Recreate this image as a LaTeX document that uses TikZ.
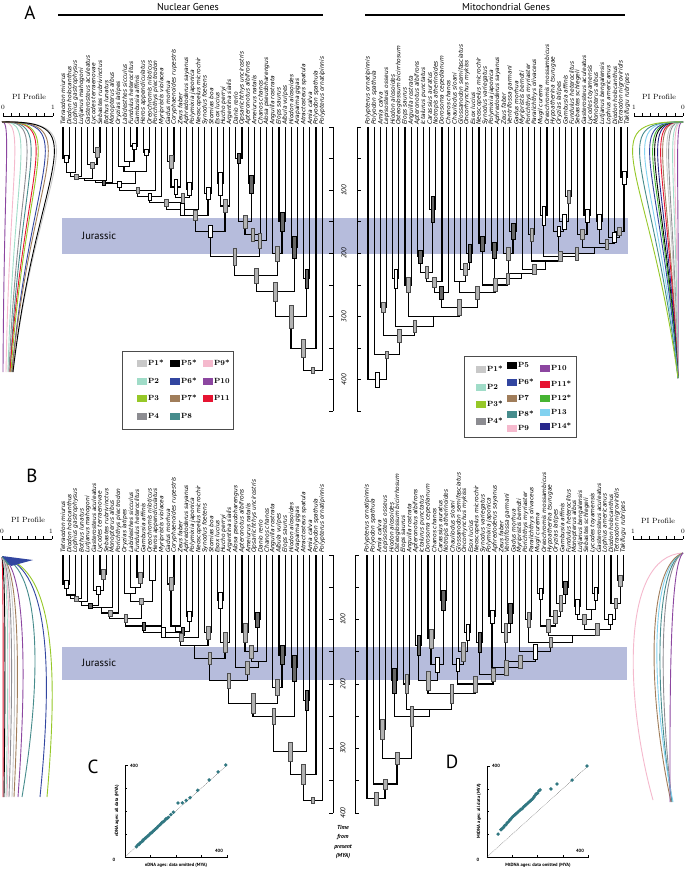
\documentclass[tikz,border=0pt]{standalone}
\usepackage{fontspec}
\newfontfamily\sfont{PT Sans}
\newfontfamily\labf{DejaVu Sans}
\usetikzlibrary{calc}
\pgfdeclarelayer{fg}
\pgfsetlayers{main,fg}
\definecolor{jur}{RGB}{182,188,220}
\definecolor{cP1}{RGB}{200,200,200}
\definecolor{cP2}{RGB}{160,220,200}
\definecolor{cP3}{RGB}{150,200,40}
\definecolor{cP4}{RGB}{140,140,145}
\definecolor{cP5}{RGB}{0,0,0}
\definecolor{cP6}{RGB}{50,70,160}
\definecolor{cP7}{RGB}{160,125,90}
\definecolor{cP8}{RGB}{70,140,140}
\definecolor{cP9}{RGB}{245,185,205}
\definecolor{cP10}{RGB}{140,70,160}
\definecolor{cP11}{RGB}{230,20,50}
\definecolor{cP12}{RGB}{70,180,50}
\definecolor{cP13}{RGB}{130,210,240}
\definecolor{cP14}{RGB}{40,40,140}
\definecolor{dotc}{RGB}{50,120,130}
\newcommand\J[4]{\coordinate (auxj) at (0,#4);\coordinate (midj) at ($(#2)!0.5!(#3)$);\coordinate (#1) at (midj |- auxj);\draw[br] (#2) |- (#1) -| (#3);}
\newcommand\JB[6]{\J{#1}{#2}{#3}{#4}\begin{pgfonlayer}{fg}\path[#5] (#1) ++(-1.8,-#6) rectangle ++(3.6,2*#6);\end{pgfonlayer}}
\newcommand\PL[5]{\draw[#1,pil] (2,#2) .. controls ({1.86*#4},{#2-2}) and ({0.69*#4},{#2+43}) .. (#5,#3);}
\newcommand\PR[5]{\draw[#1,pil] (683,#2) .. controls ({683-1.86*#4},{#2-2}) and ({683-0.69*#4},{#2+43}) .. (#5,#3);}
\newcommand\PBL[3]{\draw[#1,pil] (2,557) .. controls ({1.1*#2},568) and ({1.1*#2},680) .. (#3,797);}
\newcommand\PBR[3]{\draw[#1,pil] (683,553) .. controls ({683-1.1*#2},565) and ({683-1.1*#2},690) .. (#3,802);}
\newcommand\LE[5]{\fill[#4] (#2,#3-3.5) rectangle ++(10,7);\node[leg,anchor=west] (#1) at (#2+10.5,#3) {#5};}
\tikzset{
 br/.style={line width=1.15pt},
 gbar/.style={fill=gray!60,draw=black!70,line width=0.4pt},
 wbar/.style={fill=white,draw=black,line width=0.4pt},
 kbar/.style={fill=black!60,draw=black,line width=0.4pt},
 lab/.style={rotate=90,anchor=west,inner sep=0pt,font=\labf\itshape\fontsize{5.9}{5.9}\selectfont},
 axl/.style={rotate=90,inner sep=0pt,font=\sfont\itshape\fontsize{7}{7}\selectfont},
 axis/.style={line width=0.9pt},
 pil/.style={line width=0.9pt},
 leg/.style={inner sep=0.5pt,font=\bfseries\fontsize{7.5}{8}\selectfont},
 pit/.style={inner sep=0pt,font=\fontsize{7.5}{8}\selectfont},
 pin/.style={inner sep=0pt,font=\fontsize{6.5}{7}\selectfont},
 big/.style={inner sep=0pt,font=\sfont\fontsize{19}{19}\selectfont},
 head/.style={inner sep=0pt,font=\sfont\fontsize{10}{10}\selectfont},
 jtx/.style={inner sep=0pt,anchor=west,font=\sfont\fontsize{10.5}{11}\selectfont},
 sl/.style={inner sep=0pt,font=\sfont\bfseries\fontsize{4.6}{5}\selectfont},
 dot/.style={fill=dotc},
}
\begin{document}
\begin{tikzpicture}[x=1pt,y=-1pt]
\useasboundingbox (0,0) rectangle (685,869);
\fill[white] (0,0) rectangle (685,869);
% ---------- headers
\node[big] (lA) at (30,13) {A};
\node[head] (hN) at (188,7) {Nuclear Genes};
\draw[line width=1.2pt] (58,15) -- (323,15);
\node[head] (hM) at (506,7) {Mitochondrial Genes};
\draw[line width=1.2pt] (365,15) -- (625,15);
\node[big] (lB) at (32,476) {B};
% ---------- Jurassic bands
\fill[jur] (62,218) rectangle (628,254);
\node[jtx] (jA) at (82,236) {Jurassic};
\fill[jur] (62,647) rectangle (627,680);
\node[jtx] (jB) at (82,663) {Jurassic};
% ---------- taxon labels
\foreach \n [count=\i] in {Tetraodon miurus, Diodon holocanthus, Lophius gastrophysus, Lutjanus mahogoni, Gasterosteus aculeatus, Lycodes terraenovae, Sebastes rubrivinctus, Bothus lunatus, Monopterus albus, Oryzias latipes, Labidesthes sicculus, Fundulus heteroclitus, Gambusia affinis, Heros appendiculatus, Oreochromis niloticus, Porichthys plectrodon, Myripristis violacea, Gadus morhua, Coryphaenoides rupestris, Zeus faber, Aphredoderus sayanus, Polymixia japonica, Neoscopelus microchir, Synodus foetens, Stomias boa, Esox lucius, Hucho perryi, Argentina sialis, Danio rerio, Opsariichthys uncirostris, Apteronotus albifrons, Ameiurus natalis, Chanos chanos, Alosa pseudoharengus, Anguilla rostrata, Elops saurus, Albula vulpes, Hiodon alosoides, Arapaima gigas, Atractosteus spatula, Amia calva, Polyodon spathula, Polypterus ornatipinnis}
 {\node[lab] (la\i) at ({63+6.17*(\i-1)},125) {\n};}
\foreach \n [count=\i] in {Polypterus ornatipinnis, Polyodon spathula, Amia calva, Lepisosteus osseus, Hiodon alosoides, Osteoglossum bicirrhosum, Elops saurus, Anguilla rostrata, Apteronotus albifrons, Ictalurus punctatus, Carassius auratus, Notropis atherinoides, Dorosoma cepedianum, Chanos chanos, Chauliodus sloani, Glossanodon semifasciatus, Oncorhynchus mykiss, Esox lucius, Neoscopelus microchir, Synodus variegatus, Polymixia japonica, Aphredoderus sayanus, Zeus faber, Ventrifossa garmani, Gadus morhua, Myripristis berndti, Porichthys myriaster, Paralichthys olivaceus, Mugil curema, Oreochromis mossambicus, Hypoatherina tsurugae, Oryzias latipes, Gambusia affinis, Fundulus heteroclitus, Sebastes schlegeli, Gasterosteus aculeatus, Lycodes toyamensis, Monopterus albus, Lutjanus bengalensis, Lophius americanus, Diodon holocanthus, Tetraodon nigroviridis, Takifugu rubripes}
 {\node[lab] (lb\i) at ({368+6.17*(\i-1)},125) {\n};}
\foreach \n [count=\i] in {Tetraodon miurus, Diodon holocanthus, Lophius gastrophysus, Bothus lunatus, Lutjanus mahogoni, Gasterosteus aculeatus, Lycodes terraenovae, Sebastes rubrivinctus, Monopterus albus, Porichthys plectrodon, Oryzias latipes, Labidesthes sicculus, Fundulus heteroclitus, Gambusia affinis, Oreochromis niloticus, Heros appendiculatus, Myripristis violacea, Gadus morhua, Coryphaenoides rupestris, Zeus faber, Aphredoderus sayanus, Polymixia japonica, Neoscopelus microchir, Synodus foetens, Stomias boa, Esox lucius, Hucho perryi, Argentina sialis, Alosa pseudoharengus, Apteronotus albifrons, Ameiurus natalis, Opsariichthys uncirostris, Danio rerio, Chanos chanos, Anguilla rostrata, Albula vulpes, Elops saurus, Hiodon alosoides, Arapaima gigas, Atractosteus spatula, Amia calva, Polyodon spathula, Polypterus ornatipinnis}
 {\node[lab] (lc\i) at ({63+6.17*(\i-1)},553) {\n};}
\foreach \n [count=\i] in {Polypterus ornatipinnis, Polyodon spathula, Amia calva, Lepisosteus osseus, Hiodon alosoides, Osteoglossum bicirrhosum, Elops saurus, Anguilla rostrata, Apteronotus albifrons, Ictalurus punctatus, Dorosoma cepedianum, Chanos chanos, Carassius auratus, Notropis atherinoides, Chauliodus sloani, Glossanodon semifasciatus, Oncorhynchus mykiss, Esox lucius, Neoscopelus microchir, Synodus variegatus, Polymixia japonica, Aphredoderus sayanus, Zeus faber, Ventrifossa garmani, Gadus morhua, Myripristis berndti, Porichthys myriaster, Paralichthys olivaceus, Mugil curema, Oreochromis mossambicus, Hypoatherina tsurugae, Oryzias latipes, Gambusia affinis, Fundulus heteroclitus, Monopterus albus, Lutjanus bengalensis, Sebastes schlegeli, Lycodes toyamensis, Gasterosteus aculeatus, Lophius americanus, Diodon holocanthus, Tetraodon nigroviridis, Takifugu rubripes}
 {\node[lab] (ld\i) at ({367+6.1*(\i-1)},553) {\n};}
% ---------- time axes
\draw[axis] (333,127) -- (333,411.4);
\draw[axis] (357,127) -- (357,411.4);
\foreach \a in {0,50,...,450} {\draw[axis] (333,{127+0.632*\a}) -- ++(-4,0); \draw[axis] (357,{127+0.632*\a}) -- ++(4,0);}
\foreach \a in {100,200,300,400} {\node[axl] (tA\a) at (344,{127+0.632*\a}) {\a};}
\draw[axis] (333,555) -- (333,813);
\draw[axis] (355,555) -- (355,813);
\foreach \a in {0,50,...,400} {\draw[axis] (333,{555+0.645*\a}) -- ++(-4,0); \draw[axis] (355,{555+0.645*\a}) -- ++(4,0);}
\foreach \a in {100,200,300,400} {\node[axl] (tB\a) at (343,{555+0.645*\a}) {\a};}
\node[inner sep=0pt,align=center,font=\sfont\itshape\bfseries\fontsize{5.8}{9.3}\selectfont] (tfp) at (343,842) {Time\\from\\present\\(MYA)};
% ---------- tree A nuclear
\begin{scope}[shift={(0,127)},y=-0.632pt]
\foreach \i in {1,...,43} {\coordinate (a\i) at ({63+6.17*(\i-1)},0);}
\JB{A1}{a1}{a2}{50}{wbar}{6}
\J{A2}{A1}{a3}{72}
\JB{A3}{A2}{a4}{78}{gbar}{4}
\JB{A4}{a6}{a7}{40}{gbar}{8}
\JB{A5}{a5}{A4}{60}{gbar}{5}
\J{A6}{A3}{A5}{82}
\J{A7}{A6}{a8}{85}
\JB{A8}{A7}{a9}{88}{kbar}{4}
\JB{A9}{a12}{a13}{30}{wbar}{5}
\J{A10}{a11}{A9}{55}
\J{A11}{a10}{A10}{62}
\JB{A12}{a14}{a15}{40}{wbar}{5}
\J{A13}{A11}{A12}{70}
\JB{A14}{A8}{A13}{90}{wbar}{5}
\JB{A15}{A14}{a16}{100}{gbar}{5}
\JB{A16}{A15}{a17}{110}{wbar}{6}
\JB{A17}{a18}{a19}{55}{gbar}{10}
\JB{A18}{A17}{a20}{95}{wbar}{12}
\JB{A19}{a21}{a22}{98}{wbar}{10}
\JB{A20}{A18}{A19}{112}{gbar}{8}
\JB{A21}{A16}{A20}{120}{gbar}{6}
\JB{A22}{A21}{a23}{130}{wbar}{10}
\JB{A23}{a24}{a25}{105}{wbar}{10}
\JB{A24}{A22}{A23}{140}{gbar}{8}
\JB{A25}{a26}{a27}{90}{wbar}{18}
\JB{A26}{A25}{a28}{125}{gbar}{10}
\JB{A27}{A24}{A26}{165}{wbar}{10}
\JB{A28}{a29}{a30}{50}{kbar}{8}
\JB{A29}{a31}{a32}{90}{kbar}{14}
\JB{A30}{A28}{A29}{150}{gbar}{10}
\JB{A31}{A30}{a33}{170}{gbar}{10}
\JB{A32}{A31}{a34}{180}{gbar}{12}
\JB{A33}{A27}{A32}{205}{gbar}{14}
\JB{A34}{a36}{a37}{150}{kbar}{15}
\JB{A35}{a35}{A34}{200}{gbar}{12}
\JB{A36}{A33}{A35}{235}{gbar}{12}
\JB{A37}{a38}{a39}{190}{kbar}{18}
\JB{A38}{A36}{A37}{260}{gbar}{15}
\JB{A39}{a40}{a41}{240}{kbar}{15}
\JB{A40}{A38}{A39}{300}{gbar}{18}
\JB{A41}{A40}{a42}{350}{gbar}{15}
\JB{A42}{A41}{a43}{385}{gbar}{5}
\end{scope}
% ---------- tree A mito
\begin{scope}[shift={(0,127)},y=-0.632pt]
\foreach \i in {1,...,43} {\coordinate (b\i) at ({368+6.17*(\i-1)},0);}
\JB{B1}{b42}{b43}{80}{wbar}{10}
\JB{B2}{b41}{B1}{165}{gbar}{6}
\JB{B3}{b40}{B2}{175}{wbar}{8}
\JB{B4}{b38}{b39}{150}{wbar}{12}
\JB{B5}{B4}{B3}{185}{gbar}{8}
\JB{B6}{b36}{b37}{140}{wbar}{10}
\JB{B7}{b35}{B6}{170}{gbar}{8}
\J{B8}{B7}{B5}{190}
\JB{B9}{b33}{b34}{110}{gbar}{10}
\JB{B10}{b32}{B9}{150}{wbar}{12}
\JB{B11}{b31}{B10}{165}{wbar}{8}
\JB{B12}{B11}{B8}{200}{gbar}{10}
\JB{B13}{b29}{b30}{140}{wbar}{15}
\JB{B14}{B13}{B12}{205}{gbar}{8}
\JB{B15}{b27}{b28}{170}{gbar}{10}
\J{B16}{B15}{B14}{212}
\JB{B17}{b26}{B16}{225}{gbar}{8}
\JB{B18}{b24}{b25}{165}{kbar}{12}
\JB{B19}{b23}{B18}{200}{gbar}{10}
\J{B20}{B19}{B17}{232}
\JB{B21}{b21}{b22}{195}{kbar}{12}
\JB{B22}{B21}{B20}{240}{gbar}{8}
\JB{B23}{b19}{b20}{185}{kbar}{12}
\JB{B24}{B23}{B22}{250}{gbar}{10}
\JB{B25}{b17}{b18}{200}{kbar}{14}
\JB{B26}{b16}{B25}{225}{gbar}{10}
\J{B27}{b15}{B26}{245}
\JB{B28}{B27}{B24}{262}{gbar}{10}
\JB{B29}{b11}{b12}{130}{kbar}{20}
\JB{B30}{b9}{b10}{205}{kbar}{10}
\JB{B31}{B30}{B29}{230}{gbar}{10}
\JB{B32}{B31}{b13}{245}{gbar}{8}
\JB{B33}{B32}{b14}{262}{kbar}{10}
\JB{B34}{B33}{B28}{285}{gbar}{12}
\JB{B35}{b7}{b8}{250}{gbar}{12}
\J{B36}{B35}{B34}{300}
\JB{B37}{b5}{b6}{240}{wbar}{15}
\JB{B38}{B37}{B36}{315}{gbar}{10}
\JB{B39}{b3}{b4}{285}{gbar}{8}
\JB{B40}{B39}{B38}{330}{gbar}{10}
\JB{B41}{b2}{B40}{360}{gbar}{6}
\JB{B42}{b1}{B41}{400}{wbar}{12}
\end{scope}
% ---------- tree B nuclear
\begin{scope}[shift={(0,555)},y=-0.645pt]
\foreach \i in {1,...,43} {\coordinate (c\i) at ({63+6.17*(\i-1)},0);}
\JB{C1}{c1}{c2}{45}{wbar}{6}
\J{C2}{C1}{c3}{62}
\JB{C3}{C2}{c4}{68}{gbar}{4}
\J{C4}{C3}{c5}{72}
\JB{C5}{c7}{c8}{30}{gbar}{8}
\JB{C6}{c6}{C5}{55}{wbar}{6}
\JB{C7}{C4}{C6}{78}{kbar}{4}
\J{C8}{C7}{c9}{82}
\JB{C9}{C8}{c10}{90}{gbar}{5}
\JB{C10}{c13}{c14}{35}{gbar}{8}
\J{C11}{c12}{C10}{50}
\J{C12}{c11}{C11}{60}
\J{C13}{c15}{c16}{40}
\JB{C14}{C12}{C13}{72}{gbar}{5}
\JB{C15}{C9}{C14}{98}{gbar}{6}
\JB{C16}{C15}{c17}{110}{kbar}{6}
\JB{C17}{c18}{c19}{45}{gbar}{10}
\J{C18}{C17}{c20}{110}
\JB{C19}{c21}{c22}{95}{wbar}{8}
\JB{C20}{C18}{C19}{118}{kbar}{6}
\JB{C21}{C16}{C20}{120}{wbar}{8}
\JB{C22}{C21}{c23}{128}{gbar}{6}
\JB{C23}{c24}{c25}{120}{gbar}{10}
\J{C24}{C22}{C23}{140}
\JB{C25}{c26}{c27}{70}{wbar}{12}
\JB{C26}{C25}{c28}{135}{gbar}{15}
\JB{C27}{C24}{C26}{160}{gbar}{10}
\JB{C28}{c32}{c33}{100}{kbar}{12}
\JB{C29}{c30}{c31}{120}{gbar}{15}
\JB{C30}{C29}{C28}{150}{gbar}{10}
\J{C31}{C30}{c34}{165}
\JB{C32}{c29}{C31}{175}{gbar}{10}
\JB{C33}{C27}{C32}{195}{gbar}{12}
\JB{C34}{c36}{c37}{155}{kbar}{15}
\JB{C35}{c35}{C34}{205}{gbar}{12}
\JB{C36}{C33}{C35}{230}{gbar}{15}
\JB{C37}{c38}{c39}{175}{kbar}{20}
\JB{C38}{C36}{C37}{250}{gbar}{12}
\JB{C39}{c40}{c41}{225}{kbar}{15}
\JB{C40}{C38}{C39}{305}{gbar}{15}
\JB{C41}{C40}{c42}{340}{gbar}{15}
\JB{C42}{C41}{c43}{380}{gbar}{5}
\end{scope}
% ---------- tree B mito
\begin{scope}[shift={(0,555)},y=-0.645pt]
\foreach \i in {1,...,43} {\coordinate (d\i) at ({367+6.1*(\i-1)},0);}
\JB{D1}{d42}{d43}{40}{gbar}{8}
\JB{D2}{d41}{D1}{75}{gbar}{8}
\JB{D3}{d40}{D2}{100}{wbar}{8}
\JB{D4}{d38}{d39}{60}{wbar}{10}
\J{D5}{d37}{D4}{85}
\JB{D6}{d35}{d36}{80}{wbar}{12}
\JB{D7}{D6}{D5}{100}{gbar}{8}
\JB{D8}{D7}{D3}{115}{gbar}{10}
\JB{D9}{d33}{d34}{50}{kbar}{10}
\JB{D10}{d32}{D9}{75}{gbar}{12}
\JB{D11}{d31}{D10}{95}{gbar}{10}
\JB{D12}{d29}{d30}{60}{wbar}{8}
\JB{D13}{D12}{D11}{110}{gbar}{10}
\J{D14}{D13}{D8}{125}
\JB{D15}{d27}{d28}{100}{gbar}{12}
\JB{D16}{D15}{D14}{135}{gbar}{8}
\JB{D17}{d26}{D16}{150}{wbar}{12}
\JB{D18}{d24}{d25}{90}{kbar}{15}
\JB{D19}{d23}{D18}{120}{gbar}{15}
\JB{D20}{D19}{D17}{165}{gbar}{10}
\JB{D21}{d21}{d22}{95}{wbar}{10}
\JB{D22}{D21}{D20}{175}{gbar}{12}
\JB{D23}{d19}{d20}{135}{kbar}{15}
\JB{D24}{D23}{D22}{185}{gbar}{10}
\JB{D25}{d17}{d18}{120}{wbar}{12}
\JB{D26}{d16}{D25}{150}{gbar}{15}
\JB{D27}{d15}{D26}{170}{wbar}{10}
\JB{D28}{D27}{D24}{200}{gbar}{12}
\JB{D29}{d13}{d14}{70}{kbar}{15}
\JB{D30}{d11}{d12}{130}{gbar}{15}
\JB{D31}{D30}{D29}{170}{wbar}{12}
\JB{D32}{d9}{d10}{140}{kbar}{15}
\JB{D33}{D32}{D31}{195}{gbar}{15}
\JB{D34}{D33}{D28}{215}{gbar}{15}
\JB{D35}{d7}{d8}{200}{gbar}{15}
\J{D36}{D35}{D34}{240}
\JB{D37}{d5}{d6}{195}{kbar}{20}
\JB{D38}{D37}{D36}{250}{gbar}{15}
\JB{D39}{d3}{d4}{270}{gbar}{15}
\JB{D40}{D39}{D38}{315}{gbar}{10}
\JB{D41}{d2}{D40}{355}{gbar}{8}
\JB{D42}{d1}{D41}{378}{gbar}{10}
\end{scope}
% ---------- PI profile scales
\node[pit] (pA1) at (29,97) {PI Profile};
\node[pin] (pA1a) at (3,107) {0};
\node[pin] (pA1b) at (53,107) {1};
\draw[axis] (3,116) -- (53,116);
\foreach \t in {0,...,6} {\draw (3+8.33*\t,116) -- ++(0,-3);}
\node[pit] (pA2) at (659,97) {PI Profile};
\node[pin] (pA2a) at (634,107) {1};
\node[pin] (pA2b) at (683,107) {0};
\draw[axis] (634,116) -- (683,116);
\foreach \t in {0,...,6} {\draw (634+8.17*\t,116) -- ++(0,-3);}
\node[pit] (pB1) at (28,520) {PI Profile};
\node[pin] (pB1a) at (2,531) {0};
\node[pin] (pB1b) at (51,531) {1};
\draw[axis] (2,539) -- (52,539);
\foreach \t in {0,...,6} {\draw (2+8.33*\t,539) -- ++(0,-3);}
\node[pit] (pB2) at (658,521) {PI Profile};
\node[pin] (pB2a) at (633,531) {1};
\node[pin] (pB2b) at (683,531) {0};
\draw[axis] (633,539) -- (683,539);
\foreach \t in {0,...,6} {\draw (633+8.33*\t,539) -- ++(0,-3);}
% ---------- PI curves A left
\PL{cP1}{122}{372}{55}{13}
\PL{cP10}{122}{372}{6}{3}
\PL{cP9}{122}{372}{14}{6}
\PL{cP2}{122}{372}{20}{8}
\PL{cP4}{122}{372}{26}{9}
\PL{cP8}{122}{372}{30}{10}
\PL{cP11}{122}{372}{35}{10}
\PL{cP3}{122}{372}{37}{11}
\PL{cP6}{122}{372}{44}{12}
\PL{cP7}{122}{372}{47}{12}
\PL{cP5}{122}{372}{53}{13}
% ---------- PI curves A right
\PR{cP10}{122}{378}{5}{678}
\PR{cP9}{122}{378}{8}{678}
\PR{cP2}{122}{378}{10}{678}
\PR{cP4}{122}{378}{14}{678}
\PR{cP1}{122}{378}{16}{678}
\PR{cP7}{122}{378}{20}{678}
\PR{cP11}{122}{378}{22}{678}
\PR{cP14}{122}{378}{25}{678}
\PR{cP5}{122}{378}{28}{678}
\PR{cP12}{122}{378}{30}{678}
\PR{cP6}{122}{378}{33}{678}
\PR{cP13}{122}{378}{38}{678}
\PR{cP8}{122}{378}{43}{678}
\PR{cP3}{122}{378}{50}{678}
% ---------- PI curves B left
\PBL{cP11}{3}{3}
\PBL{cP5}{5}{4}
\PBL{cP2}{8}{6}
\PBL{cP9}{10}{7}
\PBL{cP4}{12}{9}
\PBL{cP1}{15}{12}
\PBL{cP7}{18}{14}
\PBL{cP10}{24}{18}
\PBL{cP8}{38}{22}
\PBL{cP6}{47}{40}
\PBL{cP3}{52}{47}
\fill[cP8] (2,557) -- (27,561) -- (8,565) -- cycle;
\fill[cP6] (2,556) -- (33,560) -- (11,566) -- cycle;
% ---------- PI curves B right
\draw[cP9,pil] (683,553) .. controls (620,556) and (625,700) .. (653,800);
\PBR{cP4}{22}{672}
\PBR{cP8}{26}{672}
\PBR{cP13}{30}{673}
\PBR{cP7}{33}{671}
\PBR{cP10}{12}{670}
% ---------- legends
\draw[black!70,line width=0.7pt] (122,351) rectangle (233,429);
\LE{g1}{137}{363}{cP1}{P1*}
\LE{g2}{137}{381}{cP2}{P2}
\LE{g3}{137}{398}{cP3}{P3}
\LE{g4}{137}{416}{cP4}{P4}
\LE{g5}{170}{363}{cP5}{P5*}
\LE{g6}{170}{381}{cP6}{P6*}
\LE{g7}{170}{398}{cP7}{P7*}
\LE{g8}{170}{416}{cP8}{P8}
\LE{g9}{203}{363}{cP9}{P9*}
\LE{g10}{203}{381}{cP10}{P10}
\LE{g11}{203}{398}{cP11}{P11}
\draw[black!70,line width=0.7pt] (464,356) rectangle (576,437);
\LE{h1}{476}{369}{cP1}{P1*}
\LE{h2}{476}{387}{cP2}{P2}
\LE{h3}{476}{404}{cP3}{P3*}
\LE{h4}{476}{421}{cP4}{P4*}
\LE{h5}{507}{365}{cP5}{P5}
\LE{h6}{507}{382}{cP6}{P6*}
\LE{h7}{507}{398}{cP7}{P7}
\LE{h8}{507}{414}{cP8}{P8*}
\LE{h9}{507}{428}{cP9}{P9}
\LE{h10}{540}{368}{cP10}{P10}
\LE{h11}{540}{384}{cP11}{P11*}
\LE{h12}{540}{398}{cP12}{P12*}
\LE{h13}{540}{412}{cP13}{P13}
\LE{h14}{540}{426}{cP14}{P14*}
% ---------- scatter C
\node[big] (lC) at (93,767) {C};
\draw[line width=0.6pt] (125,765) -- (125,857) -- (228,857);
\foreach \t in {1,2,3} {\draw[line width=0.5pt] (125,{857-23*\t}) -- ++(2,0);}
\draw[line width=0.5pt] (125,765) -- ++(2.5,0);
\foreach \t in {1,2,3,4} {\draw[line width=0.5pt] ({125+25.5*\t},857) -- ++(0,-2);}
\draw[densely dotted,black!60,line width=0.5pt] (125,857) -- (227,765);
\foreach \p/\q in {45/45,50/52,55/55,60/62,65/66,70/70,72/75,78/80,82/84,88/90,92/93,96/98,100/103,105/106,110/112,115/117,120/122,125/127,130/133,135/138,140/143,145/150,150/153,155/158,160/165,165/168,170/172,180/184,190/195,208/235,225/235,240/246,255/258,285/290,330/335,365/370,395/400}
 {\fill[dot] ({125+0.255*\p},{857-0.23*\q}) circle[radius=1.9pt];}
\node[sl] (cy4) at (134,766) {400};
\node[sl] (cz) at (114,860) {0};
\node[sl] (cx4) at (219,851) {400};
\node[sl,rotate=90] (cyl) at (117,811) {nDNA ages: all data (MYA)};
\node[sl] (cxl) at (176,865) {nDNA ages: data omitted (MYA)};
% ---------- scatter D
\node[big] (lD) at (452,762) {D};
\draw[line width=0.6pt] (487,766) -- (487,857) -- (589,857);
\foreach \t in {1,2,3} {\draw[line width=0.5pt] (487,{857-22.75*\t}) -- ++(2,0);}
\draw[line width=0.5pt] (487,766) -- ++(2.5,0);
\foreach \t in {1,2,3,4} {\draw[line width=0.5pt] ({487+25.25*\t},857) -- ++(0,-2);}
\draw[densely dotted,black!60,line width=0.5pt] (487,857) -- (588,766);
\foreach \p/\q in {44/101,55/120,60/125,65/130,70/138,75/142,80/150,85/155,90/162,95/168,100/175,105/180,110/185,115/190,120/195,125/200,130/205,135/210,140/213,145/220,150/225,155/230,160/235,165/240,170/245,175/250,180/255,185/262,190/270,195/278,200/280,205/290,210/295,253/299,277/321,337/338,396/400}
 {\fill[dot] ({487+0.2525*\p},{857-0.2275*\q}) circle[radius=1.9pt];}
\node[sl] (dy4) at (496,766) {400};
\node[sl] (dz) at (478,860) {0};
\node[sl] (dx4) at (580,851) {400};
\node[sl,rotate=90] (dyl) at (479,811) {MtDNA ages: all data (MYA)};
\node[sl] (dxl) at (538,865) {MtDNA ages: data omitted (MYA)};
\end{tikzpicture}
\end{document}
